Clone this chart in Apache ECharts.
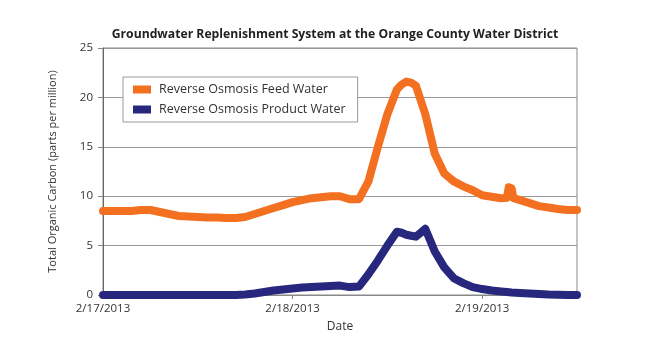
<!DOCTYPE html>
<html><head><meta charset="utf-8">
<script src="https://cdn.jsdelivr.net/npm/echarts@6/dist/echarts.min.js"></script>
<style>html,body{margin:0;padding:0;background:#fff}#c{width:670px;height:352px}</style>
</head><body><div id="c"></div>
<script>
// time in days since 2/17/2013 00:00
const days = [0,0.05,0.10,0.15,0.20,0.25,0.30,0.35,0.40,0.45,0.50,0.55,0.60,0.65,0.70,0.75,0.80,0.85,0.90,0.95,1.00,1.05,1.10,1.15,1.20,1.25,1.30,1.35,1.40,1.45,1.50,1.55,1.575,1.60,1.625,1.65,1.70,1.75,1.80,1.85,1.90,1.95,2.00,2.05,2.10,2.13,2.14,2.155,2.165,2.20,2.25,2.30,2.35,2.40,2.45,2.50];
const feedWater = [8.5,8.5,8.5,8.5,8.6,8.6,8.4,8.2,8.0,7.95,7.9,7.85,7.85,7.8,7.8,7.9,8.2,8.5,8.8,9.1,9.4,9.6,9.8,9.9,10.0,10.0,9.7,9.7,11.5,15.0,18.3,20.8,21.3,21.6,21.5,21.2,18.3,14.3,12.3,11.5,11.0,10.6,10.1,9.95,9.8,9.85,10.9,10.8,9.8,9.6,9.3,9.0,8.85,8.7,8.6,8.6];
const productWater = [0,0,0,0,0,0,0,0,0,0,0,0,0,0,0,0.05,0.15,0.3,0.45,0.55,0.65,0.75,0.8,0.85,0.9,0.95,0.8,0.85,2.1,3.5,5.0,6.4,6.3,6.1,6.0,5.9,6.7,4.4,2.8,1.7,1.2,0.8,0.6,0.45,0.35,0.3,0.3,0.25,0.25,0.2,0.15,0.1,0.05,0.03,0,0];
const dateLabels = ['2/17/2013','2/18/2013','2/19/2013'];
const seriesNames = ['Reverse Osmosis Feed Water','Reverse Osmosis Product Water'];

const chart = echarts.init(document.getElementById('c'));
const font = '"Open Sans", sans-serif';
chart.setOption({
  animation:false,
  backgroundColor:'#fff',
  title:{text:'Groundwater Replenishment System at the Orange County Water District',left:'center',top:24,
    textStyle:{fontFamily:font,fontSize:12.2,fontWeight:'bold',color:'#222'}},
  legend:{orient:'vertical',left:123,top:77,padding:[6,12,6,10],itemGap:7,
    backgroundColor:'#fff',borderColor:'#999',borderWidth:1,
    icon:'rect',itemWidth:18,itemHeight:8,
    textStyle:{fontFamily:font,fontSize:12.5,color:'#333',padding:[0,0,0,3]},data:seriesNames},
  grid:{left:103,right:93,top:48,bottom:57,show:true,borderColor:'#888',borderWidth:1},
  xAxis:{type:'value',min:0,max:2.5,interval:1,
    name:'Date',nameLocation:'middle',nameGap:26,
    nameTextStyle:{fontFamily:font,fontSize:12,color:'#333'},
    axisLine:{show:true,lineStyle:{color:'#888'}},
    axisTick:{show:true,length:4,lineStyle:{color:'#888'}},
    splitLine:{show:false},
    axisLabel:{fontFamily:font,fontSize:11.5,color:'#333',margin:8,formatter:v=>dateLabels[Math.round(v)]||''}},
  yAxis:{type:'value',min:0,max:25,interval:5,
    name:'Total Organic Carbon (parts per million)',nameLocation:'middle',nameGap:45,
    nameTextStyle:{fontFamily:font,fontSize:11,color:'#333'},
    axisLine:{show:true,lineStyle:{color:'#666'}},
    axisTick:{show:true,length:5,lineStyle:{color:'#888'}},
    splitLine:{show:true,lineStyle:{color:'#999'}},
    axisLabel:{fontFamily:font,fontSize:11.5,color:'#333',margin:10}},
  series:[
    {name:seriesNames[0],type:'line',showSymbol:false,color:'#F37021',
      lineStyle:{width:8,color:'#F37021',cap:'round',join:'round'},
      data:days.map((d,i)=>[d,feedWater[i]])},
    {name:seriesNames[1],type:'line',showSymbol:false,color:'#27287D',
      lineStyle:{width:8,color:'#27287D',cap:'round',join:'round'},
      data:days.map((d,i)=>[d,productWater[i]])}
  ]
});
</script></body></html>
